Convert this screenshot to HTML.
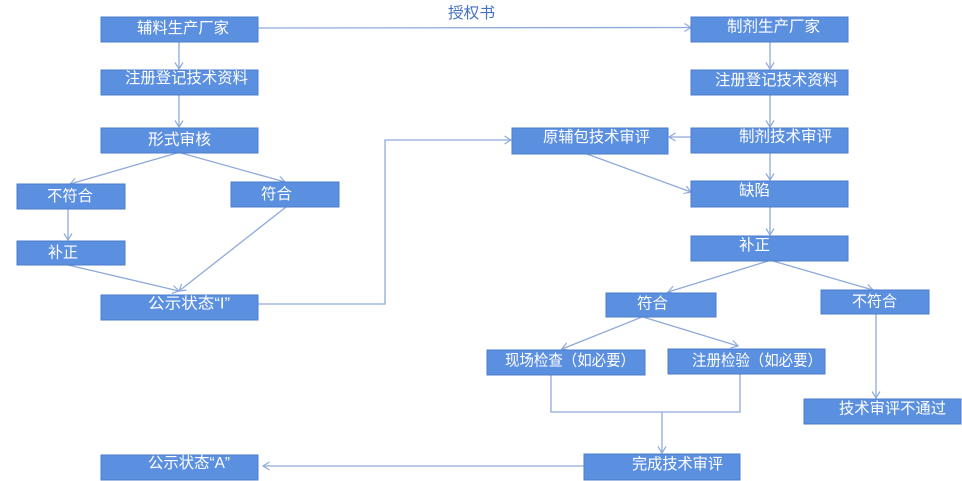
<!DOCTYPE html>
<html><head><meta charset="utf-8">
<style>
html,body{margin:0;padding:0;background:#fff;}
svg{display:block;}
text{font-family:"Liberation Sans","Noto Sans CJK SC","WenQuanYi Zen Hei",sans-serif;font-size:15.5px;fill:#fff;dominant-baseline:central;}
.b{fill:#5b8fe0;stroke:#4c7dcb;stroke-width:1;}
.l{fill:none;stroke:#8eaadb;stroke-width:1.3;}
</style></head>
<body>
<svg width="962" height="481" viewBox="0 0 962 481" xmlns="http://www.w3.org/2000/svg">
<defs>
<marker id="a" markerWidth="12" markerHeight="12" refX="8" refY="5" orient="auto" markerUnits="userSpaceOnUse">
<path d="M1.5,1 L8,5 L1.5,9" fill="none" stroke="#8eaadb" stroke-width="1.2"/>
</marker>
</defs>

<!-- connectors -->
<path class="l" d="M258,28 L691,27.5" marker-end="url(#a)"/>
<path class="l" d="M179,42 L179,69" marker-end="url(#a)"/>
<path class="l" d="M179,95 L179,127" marker-end="url(#a)"/>
<path class="l" d="M177,153 L70,184" marker-end="url(#a)"/>
<path class="l" d="M181,153 L285,182" marker-end="url(#a)"/>
<path class="l" d="M68,209 L68,240" marker-end="url(#a)"/>
<path class="l" d="M68,265 L179,291" marker-end="url(#a)"/>
<path class="l" d="M286,207 L179,291" marker-end="url(#a)"/>
<path class="l" d="M258,304 L385,304 L385,140 L511,140" marker-end="url(#a)"/>
<path class="l" d="M770,42 L770,69" marker-end="url(#a)"/>
<path class="l" d="M770,95 L770,127" marker-end="url(#a)"/>
<path class="l" d="M691,137 L669,137" marker-end="url(#a)"/>
<path class="l" d="M770,153 L770,180" marker-end="url(#a)"/>
<path class="l" d="M587,154 L691,192" marker-end="url(#a)"/>
<path class="l" d="M770,207 L770,235" marker-end="url(#a)"/>
<path class="l" d="M768,261 L668,292" marker-end="url(#a)"/>
<path class="l" d="M773,261 L873,290" marker-end="url(#a)"/>
<path class="l" d="M642,317 L562,349" marker-end="url(#a)"/>
<path class="l" d="M643,317 L738,346" marker-end="url(#a)"/>
<path class="l" d="M876,314 L876,398" marker-end="url(#a)"/>
<path class="l" d="M551,375 L551,412 L740,412 L740,374"/>
<path class="l" d="M662,412 L662,453" marker-end="url(#a)"/>
<path class="l" d="M584,466 L263,466" marker-end="url(#a)"/>

<!-- boxes left -->
<rect class="b" x="101" y="17" width="157" height="25"/>
<rect class="b" x="101" y="70" width="157" height="25"/>
<rect class="b" x="101" y="128" width="157" height="25"/>
<rect class="b" x="17" y="184" width="108" height="25"/>
<rect class="b" x="231" y="182" width="108" height="25"/>
<rect class="b" x="17" y="241" width="108" height="24"/>
<rect class="b" x="101" y="295" width="157" height="25"/>
<rect class="b" x="101" y="455" width="157" height="25"/>

<!-- boxes right -->
<rect class="b" x="691" y="17" width="157" height="25"/>
<rect class="b" x="691" y="70" width="157" height="25"/>
<rect class="b" x="691" y="128" width="157" height="25"/>
<rect class="b" x="512" y="128" width="156" height="26"/>
<rect class="b" x="691" y="181" width="157" height="26"/>
<rect class="b" x="691" y="236" width="157" height="25"/>
<rect class="b" x="606" y="293" width="110" height="24"/>
<rect class="b" x="821" y="290" width="108" height="24"/>
<rect class="b" x="487" y="350" width="158" height="25"/>
<rect class="b" x="668" y="349" width="157" height="25"/>
<rect class="b" x="804" y="399" width="157" height="25"/>
<rect class="b" x="584" y="454" width="156" height="26"/>

<!-- labels -->
<text x="448" y="13.5" style="fill:#4472c4" textLength="47" lengthAdjust="spacingAndGlyphs">授权书</text>

<text x="137" y="28.5" textLength="92" lengthAdjust="spacingAndGlyphs">辅料生产厂家</text>
<text x="125" y="78.5" textLength="123" lengthAdjust="spacingAndGlyphs">注册登记技术资料</text>
<text x="148" y="140" textLength="63" lengthAdjust="spacingAndGlyphs">形式审核</text>
<text x="47" y="196.5" textLength="46" lengthAdjust="spacingAndGlyphs">不符合</text>
<text x="261" y="194.7" textLength="31" lengthAdjust="spacingAndGlyphs">符合</text>
<text x="48" y="253" textLength="30" lengthAdjust="spacingAndGlyphs">补正</text>
<text x="148" y="304" textLength="82" lengthAdjust="spacingAndGlyphs">公示状态“I”</text>
<text x="148" y="463.7" textLength="82" lengthAdjust="spacingAndGlyphs">公示状态“A”</text>

<text x="727" y="27" textLength="93" lengthAdjust="spacingAndGlyphs">制剂生产厂家</text>
<text x="715" y="80.5" textLength="123" lengthAdjust="spacingAndGlyphs">注册登记技术资料</text>
<text x="739" y="137" textLength="93" lengthAdjust="spacingAndGlyphs">制剂技术审评</text>
<text x="543" y="137.5" textLength="107" lengthAdjust="spacingAndGlyphs">原辅包技术审评</text>
<text x="739" y="191" textLength="31" lengthAdjust="spacingAndGlyphs">缺陷</text>
<text x="739" y="245.5" textLength="31" lengthAdjust="spacingAndGlyphs">补正</text>
<text x="637" y="304" textLength="31" lengthAdjust="spacingAndGlyphs">符合</text>
<text x="852" y="302" textLength="45" lengthAdjust="spacingAndGlyphs">不符合</text>
<text x="505" y="361" textLength="130" lengthAdjust="spacingAndGlyphs">现场检查（如必要）</text>
<text x="692" y="361" textLength="130" lengthAdjust="spacingAndGlyphs">注册检验（如必要）</text>
<text x="839" y="409" textLength="107" lengthAdjust="spacingAndGlyphs">技术审评不通过</text>
<text x="632" y="464.5" textLength="91" lengthAdjust="spacingAndGlyphs">完成技术审评</text>
</svg>
</body></html>
